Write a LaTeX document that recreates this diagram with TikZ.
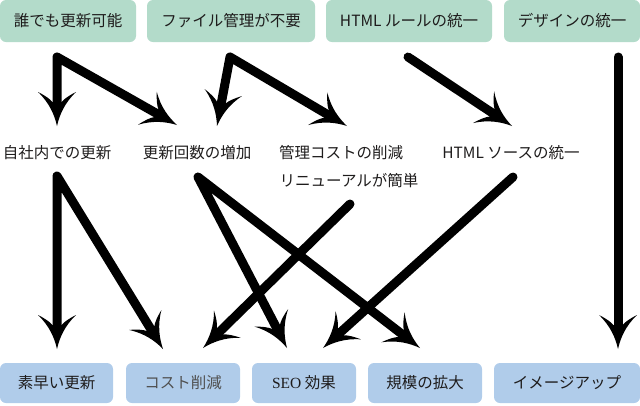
\documentclass[tikz,border=0pt]{standalone}
\usepackage{fontspec}
\setmainfont{Noto Sans CJK JP}
\newfontfamily\seriffont{Liberation Serif}
\usetikzlibrary{arrows.meta}
\definecolor{topg}{RGB}{179,219,202}
\definecolor{botb}{RGB}{176,204,234}
\definecolor{txt}{RGB}{30,28,28}
\definecolor{txtlight}{RGB}{80,80,80}
\pgfdeclarearrow{
  name = Flare,
  setup code = {
    \pgfarrowssettipend{0pt}
    \pgfarrowssetlineend{-22pt}
    \pgfarrowssetbackend{-34pt}
    \pgfarrowsupperhullpoint{0pt}{0pt}
    \pgfarrowsupperhullpoint{-34pt}{19pt}
    \pgfarrowsupperhullpoint{-24pt}{5pt}
  },
  drawing code = {
    \pgfpathmoveto{\pgfpoint{0pt}{0pt}}
    \pgfpathcurveto{\pgfpoint{-11pt}{2.5pt}}{\pgfpoint{-23pt}{7.5pt}}{\pgfpoint{-34pt}{19pt}}
    \pgfpathcurveto{\pgfpoint{-30.5pt}{12pt}}{\pgfpoint{-27pt}{7pt}}{\pgfpoint{-24pt}{4.6pt}}
    \pgfpathlineto{\pgfpoint{-24pt}{-4.6pt}}
    \pgfpathcurveto{\pgfpoint{-27pt}{-7pt}}{\pgfpoint{-30.5pt}{-12pt}}{\pgfpoint{-34pt}{-19pt}}
    \pgfpathcurveto{\pgfpoint{-23pt}{-7.5pt}}{\pgfpoint{-11pt}{-2.5pt}}{\pgfpoint{0pt}{0pt}}
    \pgfpathclose
    \pgfusepathqfill
  }
}
\begin{document}
\begin{tikzpicture}[x=1pt,y=-1pt,
  lbl/.style={inner sep=0pt, text=txt, font=\fontsize{15.5}{16}\selectfont},
  topbox/.style={lbl, fill=topg, rounded corners=6pt, minimum height=42pt},
  botbox/.style={lbl, fill=botb, rounded corners=6pt, minimum height=40pt},
  arr/.style={line width=9pt, line join=round, line cap=round, -{Flare}},
  darr/.style={line width=9pt, line join=round, line cap=round, {Flare}-{Flare}}
]
\useasboundingbox (0,0) rectangle (640,405);
% top row
\node[topbox, minimum width=136pt] (t1) at (68,21) {誰でも更新可能};
\node[topbox, minimum width=168pt] (t2) at (231,21) {ファイル管理が不要};
\node[topbox, minimum width=166pt] (t3) at (409,21) {HTML ルールの統一};
\node[topbox, minimum width=136pt] (t4) at (572,21) {デザインの統一};
% middle row
\node[lbl] (m1) at (57,153) {自社内での更新};
\node[lbl] (m2) at (197,153) {更新回数の増加};
\node[lbl] (m3) at (341,153) {管理コストの削減};
\node[lbl] (m4) at (349,181) {リニューアルが簡単};
\node[lbl] (m5) at (511,153) {HTML ソースの統一};
% bottom row
\node[botbox, minimum width=113pt] (b1) at (56.5,383) {素早い更新};
\node[botbox, minimum width=114pt, text=txtlight] (b2) at (183,383) {コスト削減};
\node[botbox, minimum width=104pt] (b3) at (304,383) {{\seriffont SEO} 効果};
\node[botbox, minimum width=114pt] (b4) at (425,383) {規模の拡大};
\node[botbox, minimum width=146pt] (b5) at (567,383) {イメージアップ};
% connector points
\coordinate (t1c) at (57,57);
\coordinate (t2c) at (230,57);
\coordinate (t3c) at (408,57);
\coordinate (t4c) at (618,57);
\coordinate (m1in) at (57,126);
\coordinate (m2inA) at (177,125);
\coordinate (m2inB) at (217,126);
\coordinate (m3in) at (347,126);
\coordinate (m5in) at (512,126);
\coordinate (m1c) at (57,176);
\coordinate (m2c) at (198,177);
\coordinate (m4c) at (350,204);
\coordinate (m5c) at (513,177);
\coordinate (b1in) at (57,349);
\coordinate (b2inA) at (163,349);
\coordinate (b2inB) at (203,348);
\coordinate (b3inA) at (287,348);
\coordinate (b3inB) at (323,348);
\coordinate (b4in) at (420,348);
\coordinate (b5in) at (618,349);
% connectors
\draw[darr] (m1in) -- (t1c) -- (m2inA);
\draw[darr] (m2inB) -- (t2c) -- (m3in);
\draw[arr] (t3c) -- (m5in);
\draw[arr] (t4c) -- (b5in);
\draw[darr] (b1in) -- (m1c) -- (b2inA);
\draw[darr] (b3inA) -- (m2c) -- (b4in);
\draw[arr] (m4c) -- (b2inB);
\draw[arr] (m5c) -- (b3inB);
\end{tikzpicture}
\end{document}
